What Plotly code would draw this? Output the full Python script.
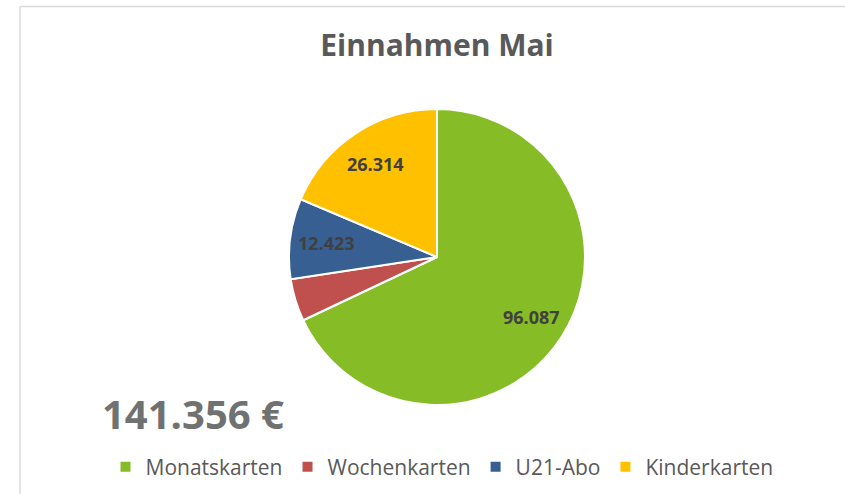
import math
import plotly.graph_objects as go

W, H = 845, 494

categories = ["Monatskarten", "Wochenkarten", "U21-Abo", "Kinderkarten"]
values = [96087, 6532, 12423, 26314]
label_texts = ["96.087", "", "12.423", "26.314"]
total_text = "141.356 €"
title_text = "Einnahmen Mai"
colors = ["#86BC25", "#C0504D", "#375F92", "#FFC000"]

def px(x):
    return x / W

def py(y):
    return 1 - y / H

# pie geometry (pixels)
CX, CY, R = 437, 257, 148

fig = go.Figure(go.Pie(
    labels=categories,
    values=values,
    textinfo="none",
    marker=dict(colors=colors, line=dict(color="white", width=2)),
    sort=False,
    direction="clockwise",
    rotation=0,
    domain=dict(x=[px(CX - R), px(CX + R)], y=[py(CY + R), py(CY - R)]),
    hoverinfo="label+value",
))

# data labels along each slice's mid angle (computed from the values)
total = sum(values)
annotations = []
cum = 0
for v, t in zip(values, label_texts):
    mid = (cum + v / 2) / total * 2 * math.pi
    cum += v
    if not t:
        continue
    lx = CX + 0.755 * R * math.sin(mid)
    ly = CY - 0.755 * R * math.cos(mid)
    annotations.append(dict(
        text=t, x=px(lx), y=py(ly), xref="paper", yref="paper",
        xanchor="center", yanchor="middle", showarrow=False,
        font=dict(family="Open Sans", size=18, color="#404040", weight="bold"),
    ))

annotations.append(dict(
    text=total_text,
    x=px(193), y=py(413), xref="paper", yref="paper",
    xanchor="center", yanchor="middle", showarrow=False,
    font=dict(family="Open Sans", size=40, color="#6F7271", weight="bold"),
))

fig.update_layout(
    width=W, height=H,
    margin=dict(l=0, r=0, t=0, b=0),
    paper_bgcolor="white",
    plot_bgcolor="white",
    font=dict(family="Open Sans", color="#595959"),
    title=dict(
        text=title_text,
        x=px(437), xanchor="center",
        y=py(45), yanchor="middle",
        font=dict(family="Open Sans", size=30, color="#595959", weight="bold"),
    ),
    showlegend=True,
    legend=dict(
        orientation="h",
        x=px(442), xanchor="center",
        y=py(467), yanchor="middle",
        font=dict(family="Open Sans", size=21, color="#595959"),
        itemwidth=30,
        traceorder="normal",
    ),
    annotations=annotations,
    shapes=[
        dict(type="line", xref="paper", yref="paper",
             x0=px(20), x1=1, y0=py(6.5), y1=py(6.5),
             line=dict(color="#D9D9D9", width=1.5)),
        dict(type="line", xref="paper", yref="paper",
             x0=px(20), x1=px(20), y0=0, y1=py(6.5),
             line=dict(color="#D9D9D9", width=1.5)),
    ],
)

fig.write_html(
    "out.html",
    config={"displayModeBar": False},
    post_script="document.body.style.margin='0';document.body.style.overflow='hidden';",
)
